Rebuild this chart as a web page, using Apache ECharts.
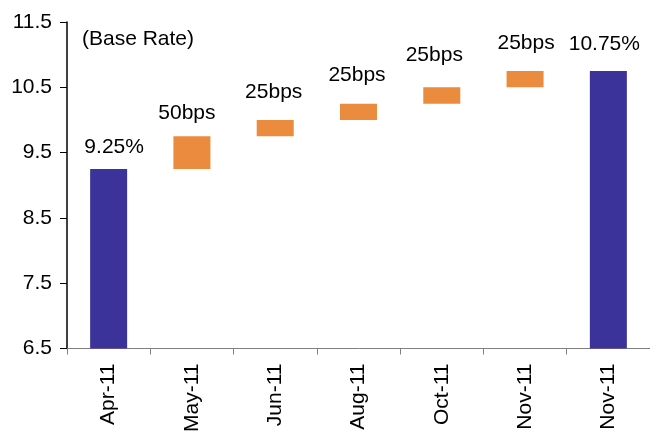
<!DOCTYPE html>
<html>
<head>
<meta charset="utf-8">
<script src="https://cdn.jsdelivr.net/npm/echarts@6/dist/echarts.min.js"></script>
<style>
html,body{margin:0;padding:0;background:#fff;}
#chart{width:650px;height:435px;}
</style>
</head>
<body>
<div id="chart"></div>
<script>
var categories = ['Apr-11', 'May-11', 'Jun-11', 'Aug-11', 'Oct-11', 'Nov-11', 'Nov-11'];
var rateBars = [9.25, '-', '-', '-', '-', '-', 10.75];
var hikeBase = ['-', 9.25, 9.75, 10.0, 10.25, 10.5, '-'];
var hikeSize = ['-', 0.5, 0.25, 0.25, 0.25, 0.25, '-'];
var yTicks = [6.5, 7.5, 8.5, 9.5, 10.5, 11.5];

// label placement tweaks (pixels) to follow the original hand-placed labels
var labelLift = [11.5, 12.5, 17, 18, 22, 17, 16];
var labelShiftX = [5.5, -5, -1.5, -1.5, -7.5, 1, -4];

var FONT = 'Liberation Sans, Arial, sans-serif';

function withLabels(values) {
  return values.map(function (v, i) {
    if (v === '-') return v;
    return {value: v, label: {distance: labelLift[i], offset: [labelShiftX[i], 0]}};
  });
}

var chart = echarts.init(document.getElementById('chart'), null, {renderer: 'canvas'});
chart.setOption({
  animation: false,
  title: {
    text: '(Base Rate)',
    left: 82, top: 29, padding: 0,
    textStyle: {fontFamily: FONT, fontSize: 21, fontWeight: 'normal', color: '#000'}
  },
  grid: {left: 67, top: 22, bottom: 83, width: 584, containLabel: false},
  xAxis: {
    type: 'category',
    data: categories,
    boundaryGap: true,
    axisLine: {lineStyle: {color: '#808080', width: 1}},
    axisTick: {show: true, length: 6, lineStyle: {color: '#808080'}},
    axisLabel: {rotate: 90, margin: 15, fontSize: 21, fontFamily: FONT, color: '#000', interval: 0}
  },
  yAxis: {
    type: 'value',
    min: 6.5, max: 11.5,
    splitLine: {show: false},
    axisLine: {show: true, lineStyle: {color: '#000', width: 1.5}},
    axisTick: {show: true, length: 7, customValues: yTicks, lineStyle: {color: '#000'}},
    axisLabel: {margin: 15, fontSize: 21, fontFamily: FONT, color: '#000', customValues: yTicks,
      formatter: function (v) { return String(v); }}
  },
  series: [
    {
      type: 'bar', stack: 'w', barWidth: 37,
      data: hikeBase,
      itemStyle: {color: 'transparent'},
      silent: true
    },
    {
      type: 'bar', stack: 'w', barWidth: 37,
      data: withLabels(hikeSize),
      itemStyle: {color: '#EB8B3D'},
      label: {show: true, position: 'top', fontSize: 21, fontFamily: FONT, color: '#000',
        formatter: function (p) { return Math.round(p.value * 100) + 'bps'; }}
    },
    {
      type: 'bar', stack: 'w', barWidth: 37,
      data: withLabels(rateBars),
      itemStyle: {color: '#3B339A'},
      label: {show: true, position: 'top', fontSize: 21, fontFamily: FONT, color: '#000',
        formatter: function (p) { return p.value.toFixed(2) + '%'; }}
    }
  ]
});
</script>
</body>
</html>
